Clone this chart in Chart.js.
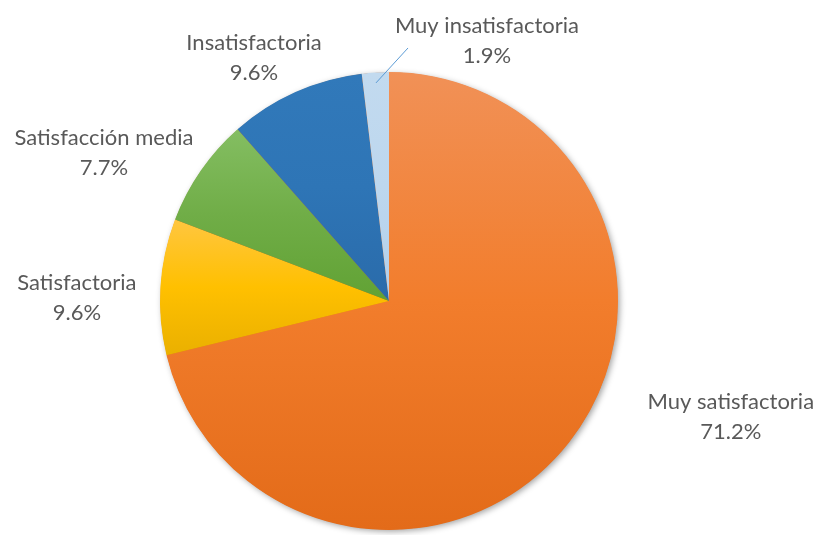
<!DOCTYPE html>
<html>
<head>
<meta charset="utf-8">
<script src="https://cdn.jsdelivr.net/npm/chart.js@4/dist/chart.umd.min.js"></script>
<style>
  html, body { margin: 0; padding: 0; background: #ffffff; }
  #wrap { width: 816px; height: 535px; position: relative; }
</style>
</head>
<body>
<div id="wrap"><canvas id="c" width="816" height="535"></canvas></div>
<script>
// Survey answers, clockwise from 12 o'clock
const categories = ['Muy satisfactoria', 'Satisfactoria', 'Satisfacción media', 'Insatisfactoria', 'Muy insatisfactoria'];
const shares = [71.2, 9.6, 7.7, 9.6, 1.9];

// Vertical gradient stops per slice (light top, base, darker bottom)
const sliceShades = [
  ['#F19157', '#F27D2C', '#E36B19'],
  ['#FFC640', '#FFC000', '#EAB000'],
  ['#84BE62', '#70AD47', '#61A234'],
  ['#3179BA', '#2E75B6', '#2A6BAA'],
  ['#C2DAEF', '#BDD7EE', '#B3CFEA']
];

// Label anchors: angle in degrees clockwise from top, distance in pie radii
const labelAngles = [108.7, 270.6, 297.4, 331.0, 20.6];
const labelDistances = [1.576, 1.363, 1.402, 1.216, 1.215];
// Leader line for the thin slice: end point (angle, distance), start at slice middle
const leaderSlice = 4;
const leaderEnd = [4.3, 1.108];
const leaderStartDist = 0.954;

function sliceBox(el) {
  const pts = [[el.x, el.y]];
  const a0 = el.startAngle, a1 = el.endAngle, r = el.outerRadius;
  pts.push([el.x + r * Math.cos(a0), el.y + r * Math.sin(a0)]);
  pts.push([el.x + r * Math.cos(a1), el.y + r * Math.sin(a1)]);
  for (let k = -4; k <= 8; k++) {
    const a = k * Math.PI / 2;
    if (a > a0 && a < a1) pts.push([el.x + r * Math.cos(a), el.y + r * Math.sin(a)]);
  }
  const ys = pts.map(p => p[1]);
  return [Math.min(...ys), Math.max(...ys)];
}

function polar(el, deg, dist) {
  const a = deg * Math.PI / 180 - Math.PI / 2;
  const r = el.outerRadius * dist;
  return [el.x + r * Math.cos(a), el.y + r * Math.sin(a)];
}

const piePainter = {
  id: 'piePainter',
  beforeDatasetsDraw(chart) {
    const ctx = chart.ctx;
    const arcs = chart.getDatasetMeta(0).data;
    if (!arcs.length) return;
    const first = arcs[0];
    // soft drop shadow under the whole pie
    ctx.save();
    ctx.shadowColor = 'rgba(0,0,0,0.38)';
    ctx.shadowBlur = 6;
    ctx.shadowOffsetX = 2;
    ctx.shadowOffsetY = 2;
    ctx.fillStyle = '#E36B19';
    ctx.beginPath();
    ctx.arc(first.x, first.y, first.outerRadius - 0.5, 0, Math.PI * 2);
    ctx.fill();
    ctx.restore();
    // per-slice vertical gradients
    arcs.forEach((el, i) => {
      const [y0, y1] = sliceBox(el);
      const g = ctx.createLinearGradient(0, y0, 0, y1);
      const s = sliceShades[i];
      g.addColorStop(0, s[0]);
      g.addColorStop(0.5, s[1]);
      g.addColorStop(1, s[2]);
      el.options.backgroundColor = g;
      el.options.borderColor = g;
    });
  },
  afterDatasetsDraw(chart) {
    const ctx = chart.ctx;
    const arcs = chart.getDatasetMeta(0).data;
    ctx.save();
    // leader line
    const le = arcs[leaderSlice];
    const midDeg = ((le.startAngle + le.endAngle) / 2 + Math.PI / 2) * 180 / Math.PI;
    const p0 = polar(le, midDeg, leaderStartDist);
    const p1 = polar(le, leaderEnd[0], leaderEnd[1]);
    ctx.strokeStyle = '#5B9BD5';
    ctx.lineWidth = 1;
    ctx.beginPath();
    ctx.moveTo(p0[0], p0[1]);
    ctx.lineTo(p1[0], p1[1]);
    ctx.stroke();
    // category + percentage labels
    ctx.fillStyle = '#595959';
    ctx.font = '22px Lato';
    ctx.textAlign = 'center';
    ctx.textBaseline = 'middle';
    arcs.forEach((el, i) => {
      const [x, y] = polar(el, labelAngles[i], labelDistances[i]);
      ctx.fillText(categories[i], x, y - 15);
      ctx.fillText(shares[i].toFixed(1) + '%', x, y + 15);
    });
    ctx.restore();
  }
};

new Chart(document.getElementById('c'), {
  type: 'pie',
  data: {
    labels: categories,
    datasets: [{
      data: shares,
      backgroundColor: sliceShades.map(s => s[1]),
      borderWidth: 0
    }]
  },
  options: {
    responsive: false,
    animation: false,
    layout: { padding: { top: 72, bottom: 5, left: 160, right: 198 } },
    plugins: {
      legend: { display: false },
      tooltip: { enabled: false }
    }
  },
  plugins: [piePainter]
});
</script>
</body>
</html>
